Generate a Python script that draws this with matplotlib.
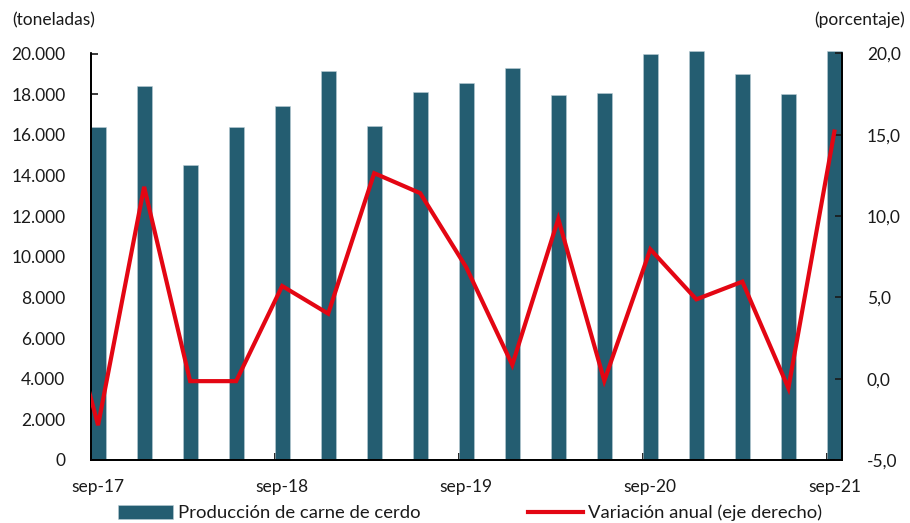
import numpy as np
import matplotlib
matplotlib.use("Agg")
import matplotlib.pyplot as plt
from matplotlib.ticker import FuncFormatter, FixedLocator

# quarterly data, sep-17 .. sep-21 (line also has the jun-17 point, clipped at the edge)
produccion = [16400, 18420, 14530, 16360, 17400, 19130, 16420, 18100, 18540,
              19310, 17980, 18060, 20000, 20110, 18980, 18010, 20110]
variacion_prev = 7.7
variacion = [-2.86, 11.8, -0.15, -0.15, 5.7, 4.0, 12.64, 11.41, 6.85,
             0.85, 9.83, -0.13, 7.96, 4.88, 5.97, -0.58, 15.2]
tick_labels = ["sep-17", "sep-18", "sep-19", "sep-20", "sep-21"]

bar_color = "#245d71"
line_color = "#e30613"
text_color = "#1a1a1a"

plt.rcParams["font.family"] = ["Lato", "DejaVu Sans"]
plt.rcParams["font.size"] = 12.5

fig = plt.figure(figsize=(9.1, 5.23), dpi=100)
ax = fig.add_axes([90.5 / 910, 1 - 460 / 523, (842 - 90.5) / 910, (460 - 53.5) / 523])
ax2 = ax.twinx()

x = np.arange(len(produccion))
w = 0.33
bars = ax.bar(x, produccion, width=w, color=bar_color, edgecolor="#b9cdd4",
              linewidth=0.4, clip_on=False, label="Producción de carne de cerdo", zorder=2)

xl = np.concatenate([[-1], x])
yl = [variacion_prev] + variacion
line, = ax2.plot(xl, yl, color=line_color, lw=3, solid_joinstyle="miter",
                 label="Variación anual (eje derecho)", zorder=3)

ax.set_xlim(-w / 2, x[-1] + w / 2)
ax.set_ylim(0, 20000)
ax2.set_ylim(-5, 20)

ax.set_yticks(np.arange(0, 20001, 2000))
ax.yaxis.set_major_formatter(FuncFormatter(lambda v, p: f"{int(v):,}".replace(",", ".")))
ax2.set_yticks(np.arange(-5, 21, 5))
ax2.yaxis.set_major_formatter(FuncFormatter(lambda v, p: f"{v:.1f}".replace(".", ",")))

# labels centred on the september bars, tick marks at the bar edges
lab_pos = x[::4]
ax.set_xticks(lab_pos)
ax.set_xticklabels(tick_labels)
ax.xaxis.set_minor_locator(FixedLocator(lab_pos - w / 2))
ax.tick_params(axis="x", which="major", length=0, pad=14, colors=text_color)
ax.tick_params(axis="x", which="minor", direction="in", length=5, width=1.2)
ax.tick_params(axis="y", direction="in", length=5, width=1.2, pad=18, colors=text_color)
ax2.tick_params(axis="y", direction="in", length=5, width=1.2, pad=18, colors=text_color)

for a in (ax, ax2):
    a.spines["top"].set_visible(False)
    for s in ("left", "right", "bottom"):
        a.spines[s].set_linewidth(1.3)
        a.spines[s].set_color("black")

fig.text(12 / 910, 1 - 20 / 523, "(toneladas)", ha="left", va="center", color=text_color)
fig.text(905 / 910, 1 - 20 / 523, "(porcentaje)", ha="right", va="center", color=text_color)

fig.legend([bars, line], [bars.get_label(), line.get_label()], ncol=2,
           loc="center", bbox_to_anchor=(470 / 910, 1 - 513 / 523), frameon=False,
           fontsize=13.3, handlelength=3.0, handleheight=0.8, handletextpad=0.25,
           columnspacing=5.8, borderpad=0, labelcolor=text_color)

fig.savefig("out.png", dpi=100)
